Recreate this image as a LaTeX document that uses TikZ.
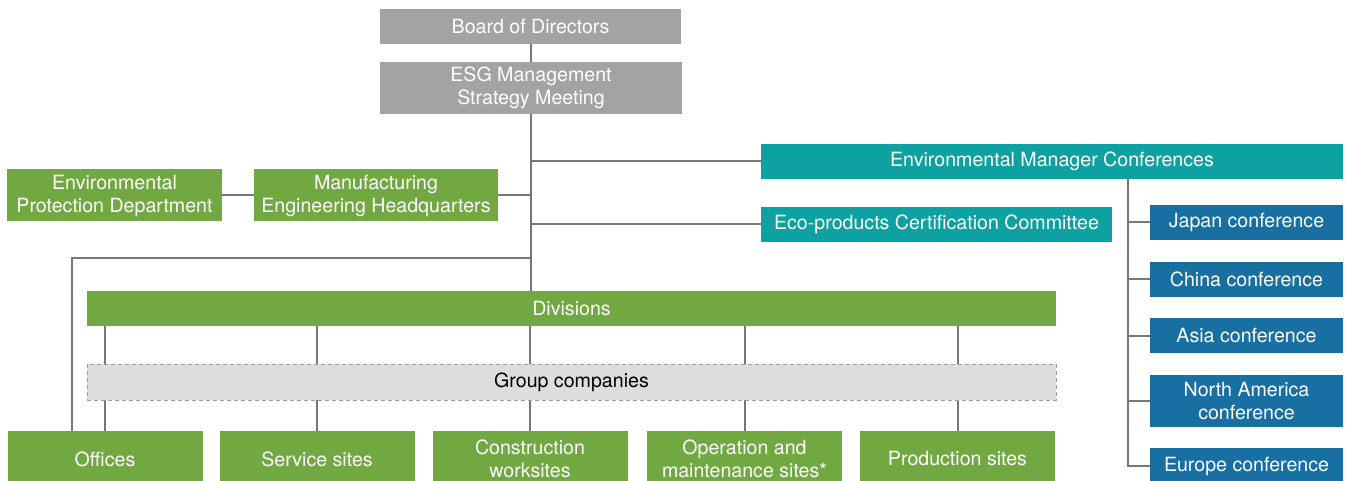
\documentclass[tikz,border=0pt]{standalone}
\usepackage{fontspec}
\setmainfont{TeX Gyre Heros}
\usetikzlibrary{calc}
\definecolor{boardgray}{HTML}{A2A3A2}
\definecolor{envgreen}{HTML}{72A841}
\definecolor{confteal}{HTML}{0DA1A1}
\definecolor{regblue}{HTML}{176FA2}
\definecolor{linegray}{HTML}{777777}
\definecolor{groupgray}{HTML}{DCDDDC}
\tikzstyle{box} = [rectangle, inner sep=0pt, align=center, text=white, font=\fontsize{9.8}{11.5}\selectfont]
\tikzstyle{mgmt} = [box, fill=boardgray]
\tikzstyle{unit} = [box, fill=envgreen]
\tikzstyle{conf} = [box, fill=confteal]
\tikzstyle{region} = [box, fill=regblue, minimum width=96.5pt]
\tikzstyle{site} = [unit, minimum width=97.5pt, minimum height=28pt]
\tikzstyle{groupbox} = [box, text=black, fill=groupgray, draw=gray!75, line width=0.5pt, dash pattern=on 2pt off 1.5pt]
\tikzstyle{link} = [draw=linegray, line width=1pt]

\begin{document}
\begin{tikzpicture}[x=0.5pt, y=-0.5pt]
    \useasboundingbox (0,0) rectangle (1346,481);
    % management
    \node (board)[mgmt, minimum width=150.5pt, minimum height=17.5pt] at (530.5,26.5) {Board of Directors};
    \node (esg)[mgmt, minimum width=151pt, minimum height=26pt] at (531,88) {ESG Management\\Strategy Meeting};
    % committees and headquarters
    \node (emc)[conf, minimum width=291pt, minimum height=17.5pt] at (1052,161.5) {Environmental Manager Conferences};
    \node (eco)[conf, minimum width=175.5pt, minimum height=17.5pt] at (936.5,224.5) {Eco-products Certification Committee};
    \node (meh)[unit, minimum width=122pt, minimum height=26pt] at (376,195.5) {Manufacturing\\Engineering Headquarters};
    \node (epd)[unit, minimum width=107.5pt, minimum height=26pt] at (114.5,195.5) {Environmental\\Protection Department};
    \node (divisions)[unit, minimum width=484.5pt, minimum height=17.5pt] at (571.5,308.5) {Divisions};
    % sites
    \node (offices)[site] at (105,459) {Offices};
    \node (service)[site] at (317,459) {Service sites};
    \node (constr)[site] at (530,459) {Construction\\worksites};
    \node (oper)[site] at (744.5,459) {Operation and\\maintenance sites*};
    \node (prod)[site] at (957.5,459) {Production sites};
    % regional conferences
    \node (japan)[region, minimum height=17.5pt] at (1246.5,222.5) {Japan conference};
    \node (china)[region, minimum height=17.5pt] at (1246.5,279.5) {China conference};
    \node (asia)[region, minimum height=17.5pt] at (1246.5,335.5) {Asia conference};
    \node (na)[region, minimum height=26pt] at (1246.5,401) {North America\\conference};
    \node (europe)[region, minimum height=18pt] at (1246.5,466) {Europe conference};
    % connectors
    \draw [link] (board.south) -- (board.south |- esg.north);
    \draw [link] (esg.south) -- (esg.south |- divisions.north);
    \draw [link] (esg.south |- emc.west) -- (emc.west);
    \draw [link] (esg.south |- meh.east) -- (meh.east);
    \draw [link] (meh.west) -- (epd.east);
    \draw [link] (esg.south |- eco.west) -- (eco.west);
    \coordinate (bend) at (72,258);
    \draw [link] (esg.south |- bend) -- (bend) -- (bend |- offices.north);
    \foreach \n in {offices, service, constr, oper, prod}
        \draw [link] (\n.north) -- (\n.north |- divisions.south);
    \node (group)[groupbox, minimum width=484.5pt, minimum height=18pt] at (571.5,382) {Group companies};
    \coordinate (rtop) at (1128,179);
    \draw [link] (rtop) |- (europe.west);
    \foreach \n in {japan, china, asia, na}
        \draw [link] (rtop |- \n.west) -- (\n.west);
\end{tikzpicture}
\end{document}
